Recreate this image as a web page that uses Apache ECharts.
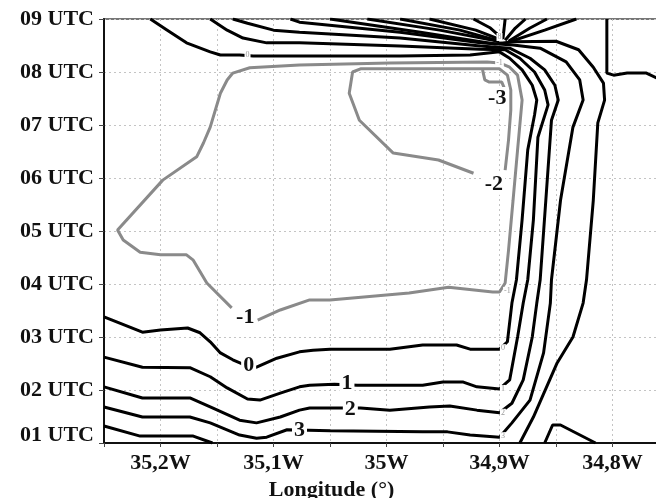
<!DOCTYPE html>
<html>
<head>
<meta charset="utf-8">
<script src="https://cdn.jsdelivr.net/npm/echarts@6/dist/echarts.min.js"></script>
<style>
  html, body { margin: 0; padding: 0; background: #fff; overflow: hidden; }
  #main { width: 656px; height: 498px; }
</style>
</head>
<body>
<div id="main"></div>
<script>
// longitude in degrees West, time in hours UTC
var hourTicks = [1, 2, 3, 4, 5, 6, 7, 8, 9];

// contour 0 (bottom, right branch, top-left branch)
var c0 = [[35.250,3.38],[35.216,3.09],[35.200,3.13],[35.176,3.17],[35.165,3.08],[35.156,2.91],[35.147,2.70],[35.136,2.57],[35.123,2.45],[35.115,2.43],[35.097,2.60],[35.077,2.72],[35.065,2.75],[35.050,2.77],[34.997,2.77],[34.968,2.85],[34.938,2.85],[34.926,2.77],[34.900,2.77],[34.893,2.91],[34.889,3.64],[34.885,4.08],[34.880,5.21],[34.875,6.53],[34.869,7.19],[34.867,7.47],[34.871,7.75],[34.880,8.04],[34.891,8.26],[34.900,8.38],[34.926,8.32],[34.988,8.30],[35.077,8.30],[35.118,8.30],[35.130,8.32],[35.147,8.32],[35.156,8.38],[35.177,8.55],[35.194,8.79],[35.209,9.0]];
var c1 = [[35.250,2.62],[35.216,2.43],[35.174,2.42],[35.156,2.25],[35.141,2.04],[35.123,1.83],[35.112,1.81],[35.094,1.94],[35.077,2.06],[35.068,2.09],[35.046,2.11],[35.026,2.09],[34.968,2.09],[34.950,2.15],[34.932,2.15],[34.920,2.06],[34.900,2.02],[34.891,2.19],[34.884,3.00],[34.879,3.64],[34.875,4.08],[34.870,5.21],[34.866,6.77],[34.857,7.38],[34.860,7.66],[34.869,8.00],[34.882,8.26],[34.895,8.42],[34.917,8.43],[34.988,8.49],[35.077,8.55],[35.106,8.55],[35.127,8.64],[35.141,8.79],[35.156,9.0]];
var c2 = [[35.250,2.06],[35.216,1.85],[35.174,1.85],[35.156,1.68],[35.130,1.43],[35.115,1.38],[35.094,1.49],[35.077,1.62],[35.068,1.66],[35.044,1.66],[35.023,1.66],[34.997,1.62],[34.962,1.68],[34.944,1.70],[34.920,1.62],[34.900,1.57],[34.889,1.75],[34.879,2.19],[34.871,3.00],[34.867,3.64],[34.864,4.08],[34.859,5.58],[34.854,7.09],[34.848,7.47],[34.851,7.75],[34.860,8.04],[34.873,8.26],[34.891,8.45],[34.917,8.49],[34.988,8.64],[35.077,8.75],[35.100,8.79],[35.123,8.92],[35.136,9.0]];
var c3 = [[35.250,1.68],[35.216,1.49],[35.174,1.49],[35.156,1.38],[35.130,1.15],[35.115,1.09],[35.106,1.11],[35.088,1.25],[35.050,1.23],[34.968,1.21],[34.946,1.21],[34.926,1.15],[34.900,1.11],[34.889,1.38],[34.873,1.81],[34.861,2.70],[34.855,3.64],[34.854,4.08],[34.846,5.58],[34.835,6.96],[34.826,7.47],[34.829,7.85],[34.841,8.19],[34.864,8.45],[34.888,8.51],[34.917,8.55],[34.988,8.75],[35.077,8.94],[35.085,9.0]];
var c4Left = [[35.250,1.32],[35.218,1.13],[35.171,1.13],[35.154,1.00]];
var c4Right = [[34.882,1.00],[34.870,1.49],[34.849,2.51],[34.835,3.00],[34.826,3.64],[34.823,4.08],[34.817,5.58],[34.813,7.04],[34.807,7.47],[34.808,7.79],[34.817,8.09],[34.830,8.42],[34.850,8.58],[34.888,8.57],[34.904,8.53],[34.970,8.75],[35.050,9.0]];
var c5 = [[34.805,9.0],[34.805,7.98],[34.799,7.94],[34.787,7.98],[34.770,7.98],[34.761,7.89],[34.754,7.81]];
var cBump = [[34.860,1.00],[34.853,1.34],[34.846,1.34],[34.815,1.00]];
var t5 = [[34.901,8.58],[34.953,8.79],[35.017,9.0]];
var t6 = [[34.900,8.58],[34.935,8.79],[34.988,9.0]];
var t7 = [[34.898,8.60],[34.921,8.79],[34.962,9.0]];
var t8 = [[34.897,8.62],[34.908,8.83],[34.923,9.0]];
var u1 = [[34.897,8.62],[34.895,9.0]];
var u2 = [[34.895,8.60],[34.886,8.83],[34.877,9.0]];
var u3 = [[34.892,8.58],[34.873,8.83],[34.858,9.0]];
var u4 = [[34.891,8.57],[34.860,8.79],[34.832,9.0]];

// negative contours
var m1 = [[35.137,3.55],[35.159,4.02],[35.171,4.45],[35.177,4.55],[35.200,4.55],[35.218,4.60],[35.233,4.83],[35.238,5.02],[35.198,5.96],[35.168,6.40],[35.162,6.66],[35.156,6.96],[35.147,7.60],[35.141,7.85],[35.136,7.98],[35.121,8.08],[35.077,8.13],[34.997,8.17],[34.911,8.19],[34.900,8.17],[34.891,8.09],[34.884,7.94],[34.880,7.47],[34.884,6.53],[34.888,5.58],[34.892,4.64],[34.895,4.02],[34.900,3.85],[34.906,3.85],[34.945,3.94],[34.980,3.83],[35.050,3.70],[35.068,3.70],[35.094,3.51],[35.114,3.32]];
var m2 = [[34.923,6.09],[34.954,6.34],[34.994,6.47],[35.024,7.09],[35.033,7.60],[35.030,8.00],[35.023,8.06],[34.915,8.06],[34.900,8.06],[34.893,7.94],[34.890,7.66],[34.890,7.28],[34.892,6.72],[34.895,6.15]];
var m3 = [[34.915,8.04],[34.913,7.85],[34.909,7.81],[34.898,7.81],[34.895,7.66]];

var bigLabels = [[35.122,2.47,'0'],[35.035,2.13,'1'],[35.032,1.64,'2'],[35.077,1.23,'3'],[35.125,3.38,'-1'],[34.905,5.89,'-2'],[34.902,7.51,'-3']];
var smallLabels = [[34.897,2.79,'0'],[34.897,2.02,'1'],[34.897,1.57,'2'],[34.897,1.13,'3'],[34.893,3.87,'-1'],[35.123,8.32,'0'],[34.900,8.17,'-1'],[34.900,8.66,'8']];

var blackLines = [c0, c1, c2, c3, c4Left, c4Right, c5, cBump, t5, t6, t7, t8, u1, u2, u3, u4];
var grayLines = [m1, m2, m3];

var FONT = 'Liberation Serif';
var chart = echarts.init(document.getElementById('main'));

function lineSeries(d, color) {
    return {
        type: 'line', data: d, showSymbol: false, symbol: 'none', silent: true,
        lineStyle: { color: color, width: 3 }, z: 3
    };
}

function labelSeries(list, style, z) {
    return {
        type: 'scatter', symbol: 'circle', symbolSize: 1, silent: true, z: z,
        itemStyle: { color: 'rgba(0,0,0,0)', opacity: 1 },
        data: list.map(function (p) { return { value: [p[0], p[1]], name: p[2] }; }),
        label: Object.assign({ show: true, position: 'inside', formatter: '{b}' }, style)
    };
}

var series = [];
blackLines.forEach(function (d) { series.push(lineSeries(d, '#000')); });
grayLines.forEach(function (d) { series.push(lineSeries(d, '#8a8a8a')); });
series.push(labelSeries(smallLabels, {
    fontSize: 8, color: '#999', backgroundColor: '#fff', padding: [0, 1], fontFamily: FONT
}, 5));
series.push(labelSeries(bigLabels, {
    fontSize: 22, fontWeight: 'bold', color: '#111', backgroundColor: '#fff',
    padding: [0, 2], fontFamily: FONT
}, 6));

var option = {
    animation: false,
    backgroundColor: '#fff',
    grid: {
        left: 104, width: 565, top: 19, height: 424, outerBoundsMode: 'none',
        show: true, borderColor: '#777', borderWidth: 2
    },
    xAxis: {
        type: 'value', inverse: true, min: 34.75, max: 35.25, interval: 0.05,
        name: 'Longitude (°)', nameLocation: 'middle', nameGap: 36,
        nameTextStyle: { fontFamily: FONT, fontWeight: 'bold', fontSize: 22, color: '#111', padding: [0, 110, 0, 0] },
        axisLine: { lineStyle: { color: '#111', width: 2 } },
        axisTick: { show: true, length: 4, lineStyle: { color: '#444' } },
        axisLabel: {
            margin: 9, fontFamily: FONT, fontWeight: 'bold', fontSize: 22, color: '#111',
            formatter: function (v) {
                var t = Math.round(v * 10);
                if (Math.abs(v * 10 - t) > 1e-6) return '';
                return (t / 10).toString().replace('.', ',') + 'W';
            }
        },
        splitLine: { show: true, lineStyle: { color: '#c4c4c4', type: [2, 3], width: 1 } }
    },
    yAxis: {
        type: 'value', min: 1, max: 9, interval: 1,
        axisLine: { lineStyle: { color: '#111', width: 2 } },
        axisTick: { show: true, length: 5, lineStyle: { color: '#444' } },
        axisLabel: {
            margin: 10, fontFamily: FONT, fontWeight: 'bold', fontSize: 22, color: '#111',
            formatter: function (v) {
                var s = (v < 10 ? '0' : '') + v + ' UTC';
                return v === hourTicks[0] ? '{lo|' + s + '}' : s;
            },
            rich: { lo: { fontFamily: FONT, fontWeight: 'bold', fontSize: 22, color: '#111', padding: [0, 0, 16, 0] } }
        },
        splitLine: { show: true, lineStyle: { color: '#c4c4c4', type: [2, 3], width: 1 } }
    },
    series: series
};

chart.setOption(option);
</script>
</body>
</html>
